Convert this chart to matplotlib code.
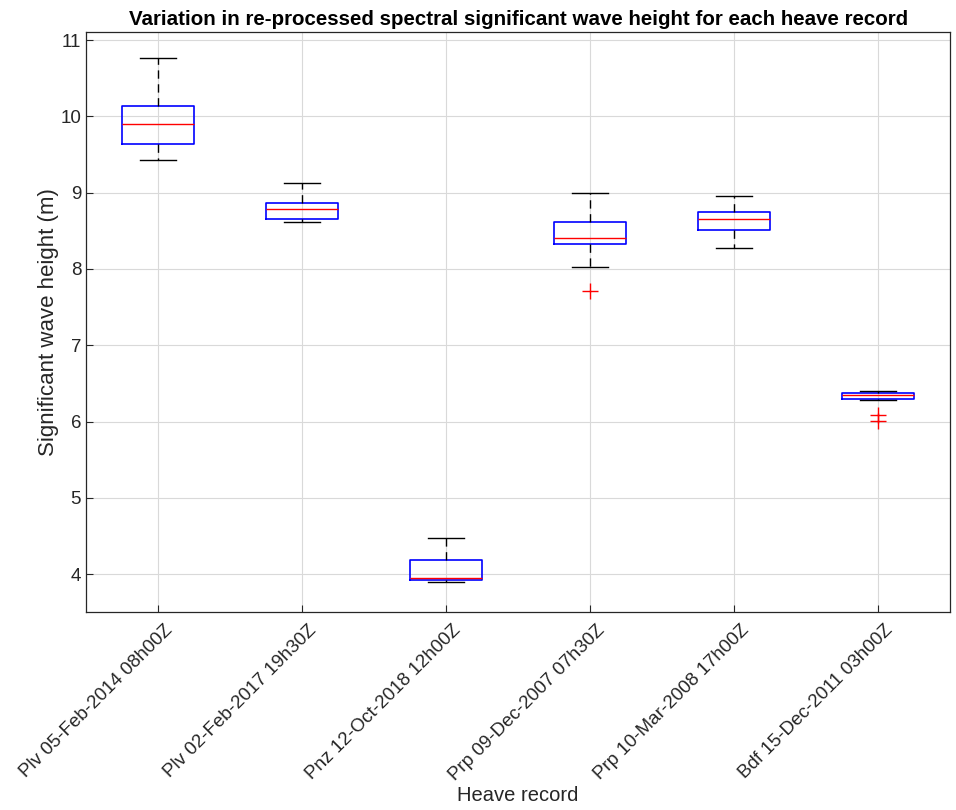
import matplotlib
matplotlib.use("Agg")
import matplotlib.pyplot as plt
import matplotlib.transforms as mtransforms

plt.rcParams['font.family'] = ['Liberation Sans', 'DejaVu Sans']

records = ["Plv 05-Feb-2014 08h00Z", "Plv 02-Feb-2017 19h30Z", "Pnz 12-Oct-2018 12h00Z",
           "Prp 09-Dec-2007 07h30Z", "Prp 10-Mar-2008 17h00Z", "Bdf 15-Dec-2011 03h00Z"]

# box statistics per record (m)
whisker_lo = [9.43, 8.62, 3.90, 8.03, 8.28, 6.28]
q1 = [9.64, 8.66, 3.93, 8.33, 8.51, 6.30]
median = [9.90, 8.79, 3.95, 8.40, 8.66, 6.35]
q3 = [10.13, 8.87, 4.19, 8.62, 8.74, 6.38]
whisker_hi = [10.76, 9.12, 4.47, 9.00, 8.95, 6.40]
outliers = [[], [], [], [7.71], [], [6.08, 6.01]]

stats = []
for i in range(len(records)):
    stats.append({
        "whislo": whisker_lo[i], "q1": q1[i], "med": median[i],
        "q3": q3[i], "whishi": whisker_hi[i], "fliers": outliers[i],
    })

fig = plt.figure(figsize=(9.56, 8.1), dpi=100)
ax = fig.add_axes([0.09, 0.245, 0.904, 0.715])

ax.bxp(stats, positions=range(1, 7), widths=0.5, capwidths=0.25,
       boxprops=dict(color='blue', linewidth=1.2),
       medianprops=dict(color='red', linewidth=1.0),
       whiskerprops=dict(color='black', linestyle=(0, (6, 4)), linewidth=1.0),
       capprops=dict(color='black', linewidth=1.0),
       flierprops=dict(marker='+', markeredgecolor='red', markersize=11, markeredgewidth=1.0))

ax.set_xlim(0.5, 6.5)
ax.set_ylim(3.51, 11.1)
ax.set_yticks(range(4, 12))
ax.set_xticks(range(1, 7))
ax.set_xticklabels(records, rotation=45, ha='right', rotation_mode='anchor')
ax.tick_params(direction='in', labelsize=13.5, colors='#262626', length=5)
ax.grid(True, color='#d9d9d9', linewidth=0.8)
ax.set_axisbelow(True)
for s in ax.spines.values():
    s.set_color('#262626')
    s.set_linewidth(0.9)

# nudge the rotated labels so their ends sit just right of each tick
shift = mtransforms.ScaledTranslation(0.06, -0.05, fig.dpi_scale_trans)
for lbl in ax.get_xticklabels():
    lbl.set_transform(lbl.get_transform() + shift)

ax.set_xlabel("Heave record", fontsize=14.5, color='#262626', labelpad=2)
ax.set_ylabel("Significant wave height (m)", fontsize=16, color='#262626', labelpad=1)
ax.set_title("Variation in re-processed spectral significant wave height for each heave record",
             fontsize=14.8, fontweight='bold', pad=5)

fig.savefig("out.png", dpi=100)
